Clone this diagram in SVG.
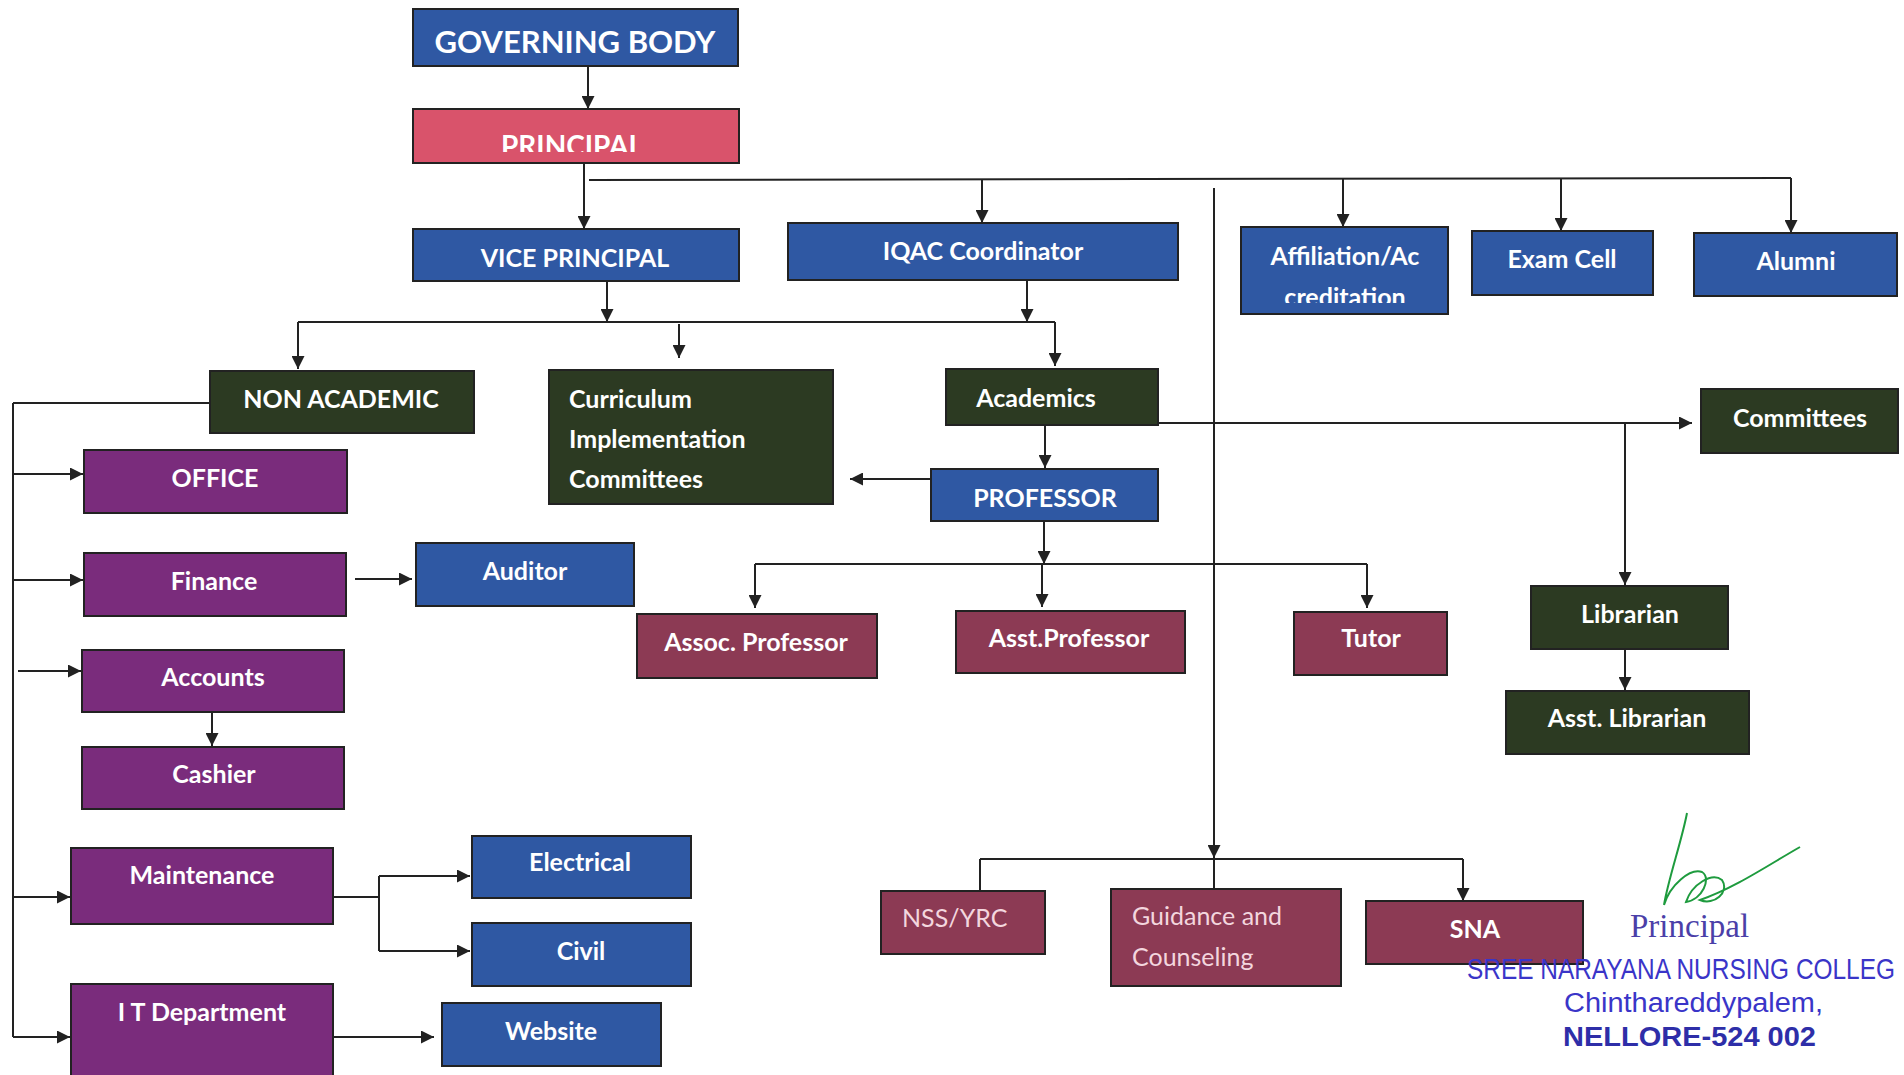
<svg xmlns="http://www.w3.org/2000/svg" width="1904" height="1075" viewBox="0 0 1904 1075">
<style>
.bx{stroke:#222;stroke-width:2}
.blue{fill:#2F58A3}.red{fill:#D9536B}.grn{fill:#2C3A22}.pur{fill:#7A2C7C}.mar{fill:#8C3A54}
.t{font-family:Lato,"Liberation Sans",sans-serif;font-weight:bold;font-size:25px;fill:#fff;text-anchor:middle}
.tl{text-anchor:start}
.tn{font-family:Lato,"Liberation Sans",sans-serif;font-weight:normal;font-size:25px;fill:#F3D6DE;text-anchor:start}
.ln{stroke:#222;stroke-width:2;fill:none}
.ar{stroke:#222;stroke-width:2;fill:none;marker-end:url(#ah)}
.st{font-family:"Liberation Sans",Arial,sans-serif;fill:#3A35C8}
</style>
<defs>
<marker id="ah" viewBox="0 0 12 12" refX="12" refY="6" markerWidth="13" markerHeight="13" markerUnits="userSpaceOnUse" orient="auto">
<path d="M0,0 L12,6 L0,12 z" fill="#222"/>
</marker>
<clipPath id="cp1"><rect x="413" y="109" width="326" height="43"/></clipPath>
<clipPath id="cp2"><rect x="1241" y="227" width="207" height="76"/></clipPath>
</defs>
<rect width="1904" height="1075" fill="#fff"/>

<g id="connectors">
<line class="ar" x1="588" y1="66" x2="588" y2="109"/>
<line class="ar" x1="584" y1="163" x2="584" y2="229"/>
<line class="ln" x1="589" y1="180" x2="1791" y2="178"/>
<line class="ar" x1="982" y1="180" x2="982" y2="223"/>
<line class="ar" x1="1343" y1="179" x2="1343" y2="227"/>
<line class="ar" x1="1561" y1="178" x2="1561" y2="231"/>
<line class="ar" x1="1791" y1="178" x2="1791" y2="233"/>
<line class="ar" x1="1214" y1="188" x2="1214" y2="858"/>
<line class="ar" x1="1214" y1="858" x2="1214" y2="906"/>
<line class="ln" x1="980" y1="891" x2="980" y2="859"/>
<line class="ln" x1="980" y1="859" x2="1463" y2="859"/>
<line class="ar" x1="1463" y1="859" x2="1463" y2="901"/>
<line class="ar" x1="607" y1="281" x2="607" y2="322"/>
<line class="ln" x1="298" y1="322" x2="1055" y2="322"/>
<line class="ar" x1="298" y1="322" x2="298" y2="369"/>
<line class="ar" x1="679" y1="324" x2="679" y2="358"/>
<line class="ar" x1="1027" y1="280" x2="1027" y2="322"/>
<line class="ar" x1="1055" y1="322" x2="1055" y2="366"/>
<line class="ar" x1="1045" y1="425" x2="1045" y2="468"/>
<line class="ar" x1="1158" y1="423" x2="1692" y2="423"/>
<line class="ar" x1="1625" y1="423" x2="1625" y2="585"/>
<line class="ar" x1="1625" y1="649" x2="1625" y2="690"/>
<line class="ar" x1="931" y1="479" x2="850" y2="479"/>
<line class="ar" x1="1044" y1="521" x2="1044" y2="564"/>
<line class="ln" x1="755" y1="564" x2="1367" y2="564"/>
<line class="ar" x1="755" y1="564" x2="755" y2="608"/>
<line class="ar" x1="1042" y1="564" x2="1042" y2="607"/>
<line class="ar" x1="1367" y1="564" x2="1367" y2="608"/>
<line class="ln" x1="210" y1="403" x2="13" y2="403"/>
<line class="ln" x1="13" y1="403" x2="13" y2="1037"/>
<line class="ar" x1="13" y1="474" x2="83" y2="474"/>
<line class="ar" x1="13" y1="580" x2="83" y2="580"/>
<line class="ar" x1="18" y1="671" x2="81" y2="671"/>
<line class="ar" x1="13" y1="897" x2="70" y2="897"/>
<line class="ar" x1="13" y1="1037" x2="70" y2="1037"/>
<line class="ar" x1="355" y1="579" x2="412" y2="579"/>
<line class="ar" x1="212" y1="712" x2="212" y2="746"/>
<line class="ln" x1="333" y1="897" x2="379" y2="897"/>
<line class="ln" x1="379" y1="876" x2="379" y2="951"/>
<line class="ar" x1="379" y1="876" x2="470" y2="876"/>
<line class="ar" x1="379" y1="951" x2="470" y2="951"/>
<line class="ar" x1="333" y1="1037" x2="434" y2="1037"/>
</g>

<g id="governing-body"><rect class="bx blue" x="413" y="9" width="325" height="57"/><text class="t" x="575" y="53" style="font-size:31px">GOVERNING BODY</text></g>
<g id="principal"><rect class="bx red" x="413" y="109" width="326" height="54"/><text class="t" x="572" y="156" clip-path="url(#cp1)" style="font-size:28px">PRINCIPAL</text></g>
<g id="vice-principal"><rect class="bx blue" x="413" y="229" width="326" height="52"/><text class="t" x="575" y="267">VICE PRINCIPAL</text></g>
<g id="iqac"><rect class="bx blue" x="788" y="223" width="390" height="57"/><text class="t" x="983" y="260">IQAC Coordinator</text></g>
<g id="affiliation"><rect class="bx blue" x="1241" y="227" width="207" height="87"/><text class="t" x="1345" y="265">Affiliation/Ac</text><text class="t" x="1345" y="306" clip-path="url(#cp2)">creditation</text></g>
<g id="exam-cell"><rect class="bx blue" x="1472" y="231" width="181" height="64"/><text class="t" x="1562" y="268">Exam Cell</text></g>
<g id="alumni"><rect class="bx blue" x="1694" y="233" width="203" height="63"/><text class="t" x="1796" y="270">Alumni</text></g>
<g id="non-academic"><rect class="bx grn" x="210" y="371" width="264" height="62"/><text class="t" x="341" y="408">NON ACADEMIC</text></g>
<g id="curriculum"><rect class="bx grn" x="549" y="370" width="284" height="134"/><text class="t tl" x="569" y="408">Curriculum</text><text class="t tl" x="569" y="448">Implementation</text><text class="t tl" x="569" y="488">Committees</text></g>
<g id="academics"><rect class="bx grn" x="946" y="369" width="212" height="56"/><text class="t" x="1036" y="407">Academics</text></g>
<g id="committees"><rect class="bx grn" x="1701" y="389" width="197" height="64"/><text class="t" x="1800" y="427">Committees</text></g>
<g id="professor"><rect class="bx blue" x="931" y="469" width="227" height="52"/><text class="t" x="1045" y="507">PROFESSOR</text></g>
<g id="office"><rect class="bx pur" x="84" y="450" width="263" height="63"/><text class="t" x="215" y="487">OFFICE</text></g>
<g id="finance"><rect class="bx pur" x="84" y="553" width="262" height="63"/><text class="t" x="214" y="590">Finance</text></g>
<g id="auditor"><rect class="bx blue" x="416" y="543" width="218" height="63"/><text class="t" x="525" y="580">Auditor</text></g>
<g id="accounts"><rect class="bx pur" x="82" y="650" width="262" height="62"/><text class="t" x="213" y="686">Accounts</text></g>
<g id="cashier"><rect class="bx pur" x="82" y="747" width="262" height="62"/><text class="t" x="214" y="783">Cashier</text></g>
<g id="maintenance"><rect class="bx pur" x="71" y="848" width="262" height="76"/><text class="t" x="202" y="884">Maintenance</text></g>
<g id="electrical"><rect class="bx blue" x="472" y="836" width="219" height="62"/><text class="t" x="580" y="871">Electrical</text></g>
<g id="civil"><rect class="bx blue" x="472" y="923" width="219" height="63"/><text class="t" x="581" y="960">Civil</text></g>
<g id="it-department"><rect class="bx pur" x="71" y="984" width="262" height="100"/><text class="t" x="202" y="1021">I T Department</text></g>
<g id="website"><rect class="bx blue" x="442" y="1003" width="219" height="63"/><text class="t" x="551" y="1040">Website</text></g>
<g id="assoc-professor"><rect class="bx mar" x="637" y="614" width="240" height="64"/><text class="t" x="756" y="651">Assoc. Professor</text></g>
<g id="asst-professor"><rect class="bx mar" x="956" y="611" width="229" height="62"/><text class="t" x="1069" y="647">Asst.Professor</text></g>
<g id="tutor"><rect class="bx mar" x="1294" y="612" width="153" height="63"/><text class="t" x="1371" y="647">Tutor</text></g>
<g id="librarian"><rect class="bx grn" x="1531" y="586" width="197" height="63"/><text class="t" x="1630" y="623">Librarian</text></g>
<g id="asst-librarian"><rect class="bx grn" x="1506" y="691" width="243" height="63"/><text class="t" x="1627" y="727">Asst. Librarian</text></g>
<g id="nss-yrc"><rect class="bx mar" x="881" y="891" width="164" height="63"/><text class="tn" x="902" y="927">NSS/YRC</text></g>
<g id="guidance"><rect class="bx mar" x="1111" y="889" width="230" height="97"/><text class="tn" x="1132" y="925">Guidance and</text><text class="tn" x="1132" y="966">Counseling</text></g>
<g id="sna"><rect class="bx mar" x="1366" y="901" width="217" height="63"/><text class="t" x="1475" y="938">SNA</text></g>

<g id="stamp">
<path d="M1687,813 C1682,840 1668,880 1664,905 C1670,885 1690,868 1702,872 C1712,878 1702,900 1686,902 C1692,884 1712,872 1722,880 C1730,892 1714,906 1700,900 C1735,888 1770,864 1800,847" fill="none" stroke="#1E9B3E" stroke-width="2"/>
<text x="1630" y="937" style="font-family:'Liberation Serif',serif;font-size:33px;fill:#4B3FA8">Principal</text>
<text class="st" x="1467" y="979" textLength="428" lengthAdjust="spacingAndGlyphs" style="font-size:29px">SREE NARAYANA NURSING COLLEG</text>
<text class="st" x="1564" y="1012" textLength="259" lengthAdjust="spacingAndGlyphs" style="font-size:27px">Chinthareddypalem,</text>
<text class="st" x="1563" y="1046" textLength="253" lengthAdjust="spacingAndGlyphs" style="font-size:27px;font-weight:bold;fill:#2E2EA8">NELLORE-524 002</text>
</g>
</svg>
